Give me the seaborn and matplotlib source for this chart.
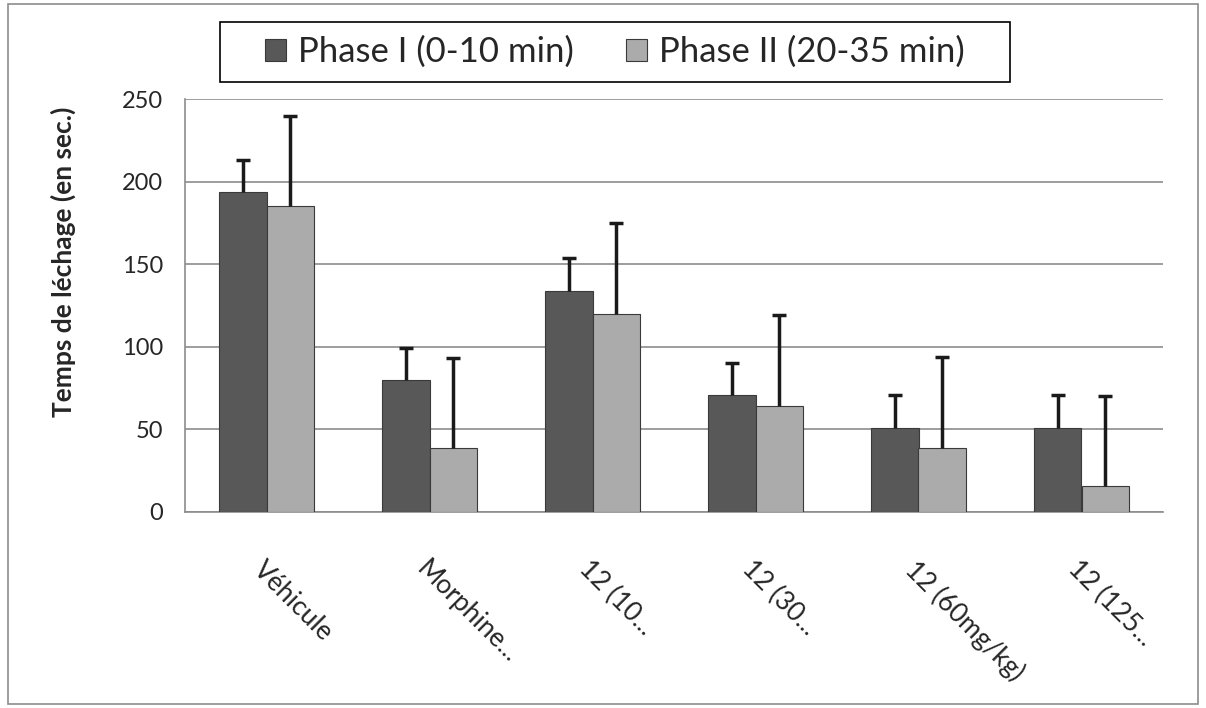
import matplotlib
matplotlib.use("Agg")
import matplotlib.pyplot as plt
import seaborn as sns
import pandas as pd
import numpy as np

categories = ["Véhicule", "Morphine...", "12 (10...", "12 (30...", "12 (60mg/kg)", "12 (125..."]
phases = ["Phase I (0-10 min)", "Phase II (20-35 min)"]
phase1_vals = [194, 80, 134, 71, 51, 51]
phase1_err = [19, 19, 20, 19, 20, 20]
phase2_vals = [185, 39, 120, 64, 39, 16]
phase2_err = [55, 54, 55, 55, 55, 54]
yticks = [0, 50, 100, 150, 200, 250]

df = pd.DataFrame({
    "cat": categories * 2,
    "phase": [phases[0]] * 6 + [phases[1]] * 6,
    "val": phase1_vals + phase2_vals,
})

sns.set_style("white")
plt.rcParams["font.family"] = ["Lato", "DejaVu Sans"]

fig = plt.figure(figsize=(12.06, 7.08), dpi=100)
ax = fig.add_axes([185 / 1206, 1 - 512 / 708, (1163 - 185) / 1206, (512 - 99) / 708])

colors = {phases[0]: "#585858", phases[1]: "#ababab"}
sns.barplot(data=df, x="cat", y="val", hue="phase", palette=colors, width=0.58,
            saturation=1, edgecolor="#3a3a3a", linewidth=0.8, ax=ax, zorder=3)

# upward-only error bars
errs = [phase1_err, phase2_err]
for cont, err in zip(ax.containers, errs):
    xs = np.array([b.get_x() + b.get_width() / 2 for b in cont])
    ys = np.array([b.get_height() for b in cont])
    tops = ys + np.array(err)
    ax.vlines(xs, ys, tops, color="#1a1a1a", linewidth=2.5, zorder=4)
    ax.hlines(tops, xs - 0.045, xs + 0.045, color="#1a1a1a", linewidth=2.5, zorder=4)

ax.set_ylim(0, 250)
ax.set_xlim(-0.5, len(categories) - 0.5)
ax.set_yticks(yticks)
ax.yaxis.grid(True, color="#8c8c8c", linewidth=1.2, zorder=0)
ax.set_axisbelow(True)
for s in ["top", "right"]:
    ax.spines[s].set_visible(False)
ax.spines["left"].set_color("#8c8c8c")
ax.spines["bottom"].set_color("#8c8c8c")
ax.spines["left"].set_linewidth(1.2)
ax.spines["bottom"].set_linewidth(1.2)

ax.tick_params(axis="y", length=8, color="#8c8c8c", labelsize=17, pad=8)
ax.set_xticks(np.arange(len(categories)))
ax.set_xticklabels(categories, rotation=-45, ha="left", va="top", rotation_mode="anchor", fontsize=19)
ax.tick_params(axis="x", length=0, pad=32)
ax.set_xticks(np.arange(len(categories) + 1) - 0.5, minor=True)
ax.tick_params(axis="x", which="minor", length=8, color="#8c8c8c")
ax.set_xlabel("")
ax.set_ylabel("Temps de léchage (en sec.)", fontsize=19, fontweight="bold")
ax.yaxis.set_label_coords((76 - 185) / 978, (512 - 262) / 413)

leg = ax.legend(loc="center", bbox_to_anchor=((615 - 185) / 978, (512 - 52) / 413), ncol=2,
                fontsize=25, frameon=False,
                handlelength=0.6, handleheight=0.6, handletextpad=0.35, columnspacing=1.5,
                borderpad=0.35)

# legend frame and outer frame
fig.patches.append(plt.Rectangle((220 / 1206, 1 - 82 / 708), 790 / 1206, 60 / 708, transform=fig.transFigure,
                                 fill=False, edgecolor="black", linewidth=1.2))
fig.patches.append(plt.Rectangle((8 / 1206, 4 / 708), 1190 / 1206, 700 / 708, transform=fig.transFigure,
                                 fill=False, edgecolor="#8c8c8c", linewidth=1.2))

fig.savefig("out.png", dpi=100)
